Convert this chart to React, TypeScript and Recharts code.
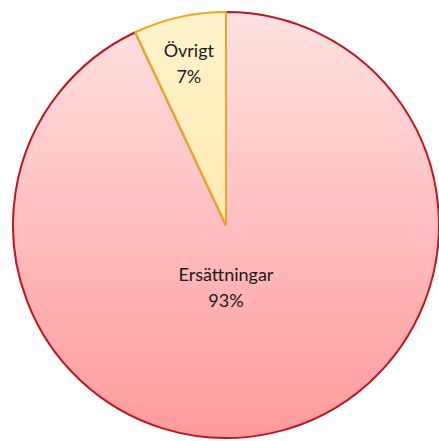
import { PieChart, Pie, Cell } from "recharts";

const categories = ["Ersättningar", "Övrigt"];
const values = [93, 7];

const data = categories.map((name, i) => ({ name, value: values[i] }));

const FILLS = ["url(#gradRed)", "url(#gradYellow)"];
const STROKES = ["#c0141e", "#eea820"];

const CX = 226;
const CY = 225;
const R = 213;

function renderLabel(props: any) {
    const { cx, cy, midAngle, outerRadius, percent, name } = props;
    const RAD = Math.PI / 180;
    let x: number;
    let y: number;
    if (percent > 0.5) {
        // large slice: Excel puts the label just below the centre
        x = cx;
        y = cy + outerRadius * 0.27;
    } else {
        const r = outerRadius * 0.8;
        x = cx + r * Math.cos(-midAngle * RAD);
        y = cy + r * Math.sin(-midAngle * RAD);
    }
    return (
        <text x={x} y={y} textAnchor="middle" fill="#1a1a1a" fontSize={18} fontFamily="Lato, 'Open Sans', sans-serif">
            <tspan x={x} dy={-2}>{name}</tspan>
            <tspan x={x} dy={26}>{Math.round(percent * 100)}%</tspan>
        </text>
    );
}

export default function App() {
    return (
        <div style={{ position: "absolute", left: 0, top: 0, width: 439, height: 441, background: "#fff" }}>
            <PieChart width={439} height={441} margin={{ top: 0, right: 0, bottom: 0, left: 0 }}>
                <defs>
                    <linearGradient id="gradRed" gradientUnits="userSpaceOnUse" x1="0" y1={CY - R} x2="0" y2={CY + R}>
                        <stop offset="0%" stopColor="#ffe2e2" />
                        <stop offset="100%" stopColor="#ff9a9c" />
                    </linearGradient>
                    <linearGradient id="gradYellow" gradientUnits="userSpaceOnUse" x1="0" y1={CY - R} x2="0" y2={CY + R}>
                        <stop offset="0%" stopColor="#fff3cc" />
                        <stop offset="100%" stopColor="#ffe299" />
                    </linearGradient>
                </defs>
                <Pie
                    data={data}
                    dataKey="value"
                    nameKey="name"
                    cx={CX}
                    cy={CY}
                    outerRadius={R}
                    startAngle={90}
                    endAngle={-270}
                    labelLine={false}
                    label={renderLabel}
                    isAnimationActive={false}
                >
                    {data.map((_, i) => (
                        <Cell key={i} fill={FILLS[i]} stroke={STROKES[i]} strokeWidth={2} />
                    ))}
                </Pie>
            </PieChart>
        </div>
    );
}
